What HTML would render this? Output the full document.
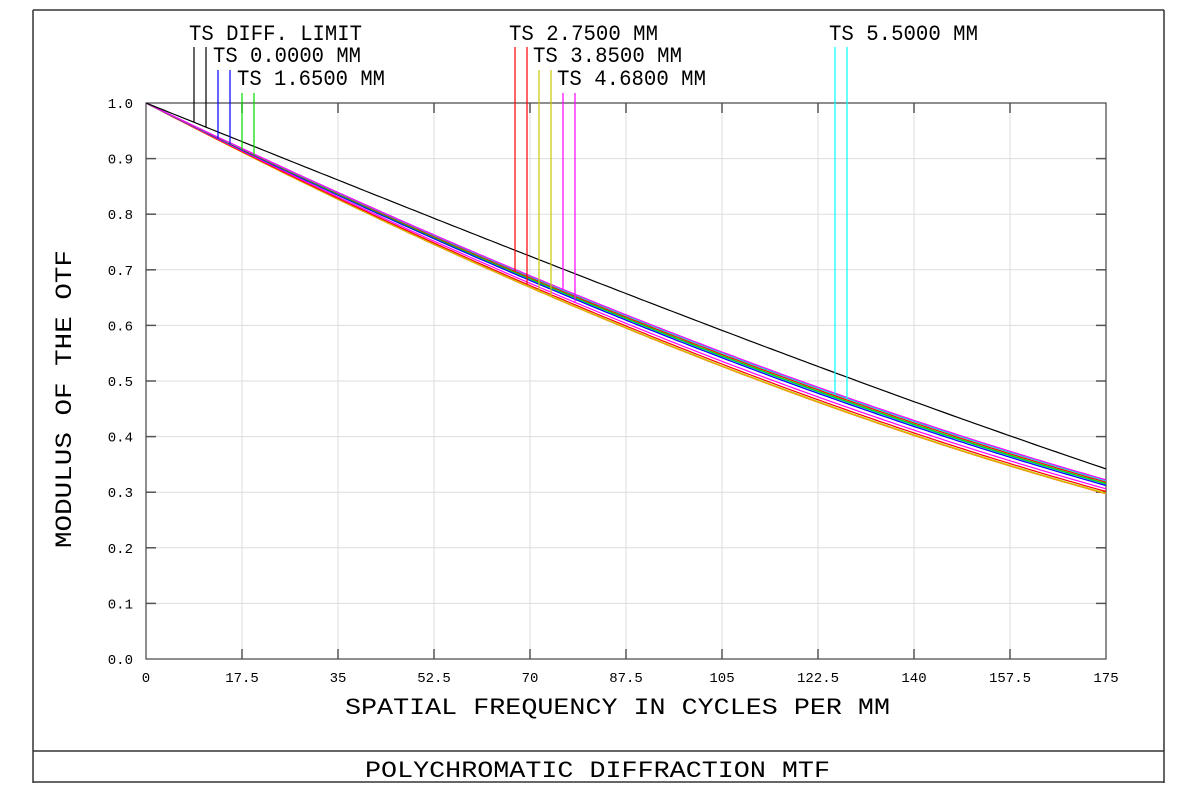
<!DOCTYPE html>
<html><head><meta charset="utf-8"><style>
html,body{margin:0;padding:0;background:#fff;width:1200px;height:802px;overflow:hidden}
svg text{font-family:"Liberation Mono","DejaVu Sans Mono",monospace;fill:#000}
</style></head><body>
<svg id="s" width="1200" height="802" viewBox="0 0 1200 802" xmlns="http://www.w3.org/2000/svg">
<g stroke="#333" stroke-width="1.5" fill="none">
<line x1="33" y1="10" x2="1164" y2="10"/>
<line x1="33" y1="10" x2="33" y2="783"/>
<line x1="1164" y1="10" x2="1164" y2="783"/>
<line x1="33" y1="751" x2="1164" y2="751"/>
<line x1="33" y1="782" x2="1164" y2="782"/>
</g>
<g id="grid" stroke="#ddd" stroke-width="1"></g>
<g id="ticks" stroke="#555" stroke-width="1.5"></g>
<rect x="146" y="103" width="960" height="556" fill="none" stroke="#444" stroke-width="1.2"/>
<g id="curves" fill="none" stroke-width="1.2"></g>
<g id="legend" stroke-width="1.2"></g>
<g id="labels" font-size="14"></g>
<text x="189" y="40" font-size="22" textLength="173" lengthAdjust="spacingAndGlyphs">TS DIFF. LIMIT</text>
<text x="213" y="62" font-size="22" textLength="148" lengthAdjust="spacingAndGlyphs">TS 0.0000 MM</text>
<text x="237" y="85" font-size="22" textLength="148" lengthAdjust="spacingAndGlyphs">TS 1.6500 MM</text>
<text x="509" y="40" font-size="22" textLength="149" lengthAdjust="spacingAndGlyphs">TS 2.7500 MM</text>
<text x="533" y="62" font-size="22" textLength="149" lengthAdjust="spacingAndGlyphs">TS 3.8500 MM</text>
<text x="557" y="85" font-size="22" textLength="149" lengthAdjust="spacingAndGlyphs">TS 4.6800 MM</text>
<text x="829" y="40" font-size="22" textLength="149" lengthAdjust="spacingAndGlyphs">TS 5.5000 MM</text>
<text x="345" y="714" font-size="23" textLength="545" lengthAdjust="spacingAndGlyphs">SPATIAL FREQUENCY IN CYCLES PER MM</text>
<text x="365" y="777" font-size="23" textLength="465" lengthAdjust="spacingAndGlyphs">POLYCHROMATIC DIFFRACTION MTF</text>
<text transform="translate(71,548) rotate(-90)" font-size="23" textLength="298" lengthAdjust="spacingAndGlyphs">MODULUS OF THE OTF</text>
</svg>
<script>
var NS="http://www.w3.org/2000/svg";
function el(p,t,a,txt){var e=document.createElementNS(NS,t);for(var k in a)e.setAttribute(k,a[k]);if(txt!==undefined)e.textContent=txt;document.getElementById(p).appendChild(e);return e;}
function X(f){return 146+f/175*960;}
function Y(m){return 659-m*556;}
for(var i=1;i<10;i++){var x=X(17.5*i);el("grid","line",{x1:x,y1:103,x2:x,y2:659});el("ticks","line",{x1:x,y1:659,x2:x,y2:649});el("ticks","line",{x1:x,y1:103,x2:x,y2:113});}
for(var j=1;j<10;j++){var y=Y(j/10);el("grid","line",{x1:146,y1:y,x2:1106,y2:y});el("ticks","line",{x1:146,y1:y,x2:156,y2:y});el("ticks","line",{x1:1096,y1:y,x2:1106,y2:y});}
var xl=["0","17.5","35","52.5","70","87.5","105","122.5","140","157.5","175"];
for(var i=0;i<=10;i++)el("labels","text",{x:X(17.5*i),y:682,"text-anchor":"middle"},xl[i]);
for(var j=0;j<=10;j++)el("labels","text",{x:133,y:Y(j/10)+5,"text-anchor":"end"},(j/10).toFixed(1));
function D(f){var v=f/321;if(v>=1)return 0;return 2/Math.PI*(Math.acos(v)-v*Math.sqrt(1-v*v));}
var series=[["#ff00ff",0.00033],["#00e0e0",0.00036],["#ff0000",0.00040],["#00dd00",0.00044],["#0000ff",0.00050],["#00c0c0",0.00046],["#ff00ff",0.00060],["#ff0000",0.00068],["#c8c800",0.00073],["#ff8000",0.00075]];
function C(f,b){return D(f)*(1-b*f)-2.5e-6*f*(175-f);}
function pts(fn){var s="";for(var f=0;f<=175;f+=1)s+=X(f).toFixed(1)+","+Y(fn(f)).toFixed(1)+" ";return s;}
for(var k=series.length-1;k>=0;k--){(function(b,c){el("curves","polyline",{points:pts(function(f){return C(f,b)}),stroke:c});})(series[k][1],series[k][0]);}
el("curves","polyline",{points:pts(D),stroke:"#000"});
var leg=[[194,47,"#000",-1],[206,47,"#000",-1],[218,70,"#0000ff",0.0005],[230,70,"#0000ff",0.0005],[242,93,"#00dd00",0.00044],[254,93,"#00dd00",0.00044],
[515,47,"#ff0000",0.0004],[527,47,"#ff0000",0.00068],[539,70,"#c8c800",0.00073],[551,70,"#c8c800",0.00073],[563,93,"#ff00ff",0.00033],[575,93,"#ff00ff",0.0006],[835,47,"#00ffff",0.00036],[847,47,"#00ffff",0.00036]];
leg.forEach(function(l){var f=(l[0]-146)/960*175;var m=l[3]<0?D(f):C(f,l[3]);el("legend","line",{x1:l[0],y1:l[1],x2:l[0],y2:Y(m),stroke:l[2]});});
</script>
</body></html>
